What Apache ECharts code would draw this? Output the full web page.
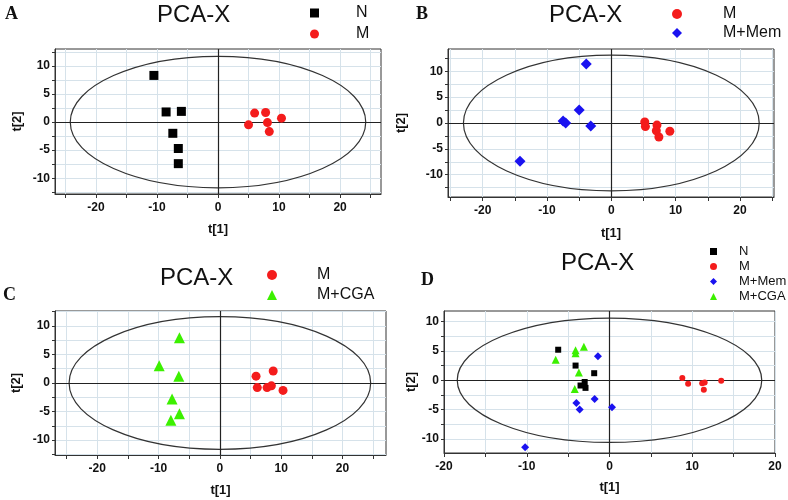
<!DOCTYPE html>
<html>
<head>
<meta charset="utf-8">
<script src="https://cdn.jsdelivr.net/npm/echarts@6/dist/echarts.min.js"></script>
<style>
  html, body { margin: 0; padding: 0; background: #fff; }
  #main { width: 788px; height: 500px; }
</style>
</head>
<body>
<div id="main"></div>
<script>
// scores, [t1, t2]
const aN = [[-10.5, 8.3], [-8.5, 1.8], [-6.0, 1.9], [-7.4, -2.0], [-6.5, -4.7], [-6.5, -7.4]];
const aM = [[5.0, -0.5], [6.0, 1.6], [7.8, 1.7], [8.1, -0.1], [8.4, -1.7], [10.4, 0.7]];

const bM = [[5.2, 0.2], [5.3, -0.7], [7.1, -0.4], [7.0, -1.5], [7.4, -2.7], [9.1, -1.6]];
const bMem = [[-3.9, 11.4], [-5.0, 2.5], [-7.5, 0.4], [-7.1, 0.0], [-3.2, -0.6], [-14.2, -7.4]];

const cM = [[5.9, 1.2], [8.7, 2.1], [6.1, -0.8], [7.7, -0.8], [8.4, -0.5], [10.3, -1.3]];
const cCGA = [[-6.6, 7.9], [-9.9, 3.0], [-6.7, 1.2], [-7.8, -2.8], [-6.6, -5.4], [-8.0, -6.5]];

const dN = [[-6.2, 5.2], [-4.1, 2.5], [-1.85, 1.2], [-3.0, -0.3], [-3.5, -0.9], [-2.9, -1.3]];
const dM = [[8.8, 0.4], [9.5, -0.6], [11.2, -0.5], [11.5, -0.4], [11.4, -1.6], [13.5, -0.1]];
const dMem = [[-1.4, 4.1], [-4.0, -3.9], [-3.6, -5.0], [-1.8, -3.2], [0.3, -4.6], [-10.2, -11.4]];
const dCGA = [[-6.5, 3.5], [-4.1, 5.1], [-4.1, 4.6], [-3.1, 5.7], [-3.7, 1.3], [-4.2, -1.5]];

// Hotelling ellipses [cx, cy, rx, ry]
const ellA = [0, 0, 24.2, 11.7];
const ellB = [0, 0, 23.0, 13.1];
const ellC = [0, 0, 24.6, 11.6];
const ellD = [0, 0, 18.4, 10.6];

// ticks / labels
const xTicks25 = [-25, -20, -15, -10, -5, 0, 5, 10, 15, 20, 25];
const xTicks20 = [-20, -15, -10, -5, 0, 5, 10, 15, 20];
const xLabels = [-20, -10, 0, 10, 20];
const yTicks = [-12.5, -10, -7.5, -5, -2.5, 0, 2.5, 5, 7.5, 10, 12.5];
const yLabels = [-10, -5, 0, 5, 10];

const RED = '#f41c1c', BLUE = '#1a12f0', GREEN = '#3cf000', BLACK = '#000';
const lineCol = '#333';
const gridCol = '#d6e2ea';
const font = 'Liberation Sans, Arial, sans-serif';

const grids = [
  { left: 55, top: 49, width: 326, height: 145 },
  { left: 448, top: 49, width: 326, height: 148 },
  { left: 55, top: 311, width: 331, height: 144 },
  { left: 444, top: 311, width: 331, height: 142 }
].map(g => Object.assign({ show: true, borderColor: lineCol, borderWidth: 1, backgroundColor: 'transparent', outerBoundsMode: 'none' }, g));

function xAxis(idx, min, max, ticks, gap) {
  return {
    type: 'value', gridIndex: idx, min: min, max: max,
    name: 't[1]', nameLocation: 'middle', nameGap: gap,
    nameTextStyle: { fontFamily: font, fontWeight: 'bold', fontSize: 13, color: '#111' },
    axisLine: { onZero: false, lineStyle: { color: lineCol, width: 1 } },
    axisTick: { show: true, length: 4, customValues: ticks, lineStyle: { color: lineCol } },
    axisLabel: { customValues: xLabels, margin: 8, fontFamily: font, fontWeight: 'bold', fontSize: 12, color: '#111' },
    splitLine: { show: true, lineStyle: { color: gridCol, width: 1 } }
  };
}
function yAxis(idx, min, max, gap) {
  return {
    type: 'value', gridIndex: idx, min: min, max: max,
    name: 't[2]', nameLocation: 'middle', nameGap: gap,
    nameTextStyle: { fontFamily: font, fontWeight: 'bold', fontSize: 13, color: '#111' },
    axisLine: { onZero: false, lineStyle: { color: lineCol, width: 1 } },
    axisTick: { show: true, length: 3, customValues: yTicks, lineStyle: { color: lineCol } },
    axisLabel: { customValues: yLabels, margin: 5, fontFamily: font, fontWeight: 'bold', fontSize: 12, color: '#111' },
    splitLine: { show: true, lineStyle: { color: gridCol, width: 1 } }
  };
}

function pts(name, data, idx, symbol, size, color) {
  return {
    type: 'scatter', name: name, data: data,
    xAxisIndex: idx, yAxisIndex: idx,
    symbol: symbol, symbolSize: size,
    itemStyle: { color: color, opacity: 1 },
    emphasis: { disabled: true }, z: 5
  };
}

function ellipse(idx, e) {
  return {
    type: 'custom', xAxisIndex: idx, yAxisIndex: idx, silent: true, z: 3,
    data: [e],
    renderItem: function (params, api) {
      const c = api.coord([api.value(0), api.value(1)]);
      const p = api.coord([api.value(0) + api.value(2), api.value(1) + api.value(3)]);
      return {
        type: 'ellipse',
        shape: { cx: c[0], cy: c[1], rx: p[0] - c[0], ry: c[1] - p[1] },
        style: { fill: 'none', stroke: lineCol, lineWidth: 1.2 }
      };
    },
    markLine: {
      silent: true, symbol: 'none', label: { show: false },
      lineStyle: { color: '#222', width: 1.2, type: 'solid' },
      data: [{ xAxis: 0 }, { yAxis: 0 }]
    }
  };
}

function legend(left, top, gap, iw, fs, pad, weight, items) {
  return {
    orient: 'vertical', left: left, top: top, itemGap: gap,
    itemWidth: iw, itemHeight: iw, selectedMode: false,
    textStyle: { fontFamily: font, fontSize: fs, fontWeight: weight, color: '#111', padding: [0, 0, 0, pad] },
    data: items
  };
}

function title(text, x, y) {
  return { type: 'text', left: x, top: y, style: { text: text, font: '24px ' + font, fill: '#111' } };
}
function letter(text, x, y) {
  return { type: 'text', left: x, top: y, style: { text: text, font: 'bold 18px Liberation Serif, Times New Roman, serif', fill: '#111' } };
}

const chart = echarts.init(document.getElementById('main'), null, { renderer: 'canvas' });
chart.setOption({
  backgroundColor: '#fff',
  animation: false,
  grid: grids,
  xAxis: [
    xAxis(0, -26.7, 26.7, xTicks25, 29),
    xAxis(1, -25.4, 25.3, xTicks25, 30),
    xAxis(2, -26.9, 27.1, xTicks25, 29),
    xAxis(3, -20, 20, xTicks20, 28)
  ],
  yAxis: [
    yAxis(0, -12.8, 13.0, 31),
    yAxis(1, -14.3, 14.3, 40),
    yAxis(2, -12.6, 12.6, 32),
    yAxis(3, -12.4, 11.8, 26)
  ],
  legend: [
    legend(305, 0, 5, 9, 16, 32, 'normal', [{ name: 'N', icon: 'rect' }, { name: 'M', icon: 'circle' }]),
    legend(667, 1, 3, 10, 16, 36, 'normal', [{ name: 'M', icon: 'circle' }, { name: 'M+Mem', icon: 'diamond' }]),
    legend(262, 262, 4, 10, 16, 35, 'normal', [{ name: 'M', icon: 'circle' }, { name: 'M+CGA', icon: 'triangle' }]),
    legend(705, 240, 2, 7, 13, 17, 'normal', [
      { name: 'N', icon: 'rect' }, { name: 'M', icon: 'circle' },
      { name: 'M+Mem', icon: 'diamond' }, { name: 'M+CGA', icon: 'triangle' }
    ])
  ],
  graphic: [
    title('PCA-X', 157, 3),
    title('PCA-X', 549, 3),
    title('PCA-X', 160, 266),
    title('PCA-X', 561, 251),
    letter('A', 5, 5),
    letter('B', 416, 5),
    letter('C', 3, 286),
    letter('D', 421, 271)
  ],
  series: [
    ellipse(0, ellA), ellipse(1, ellB), ellipse(2, ellC), ellipse(3, ellD),
    pts('N', aN, 0, 'rect', 9, BLACK),
    pts('M', aM, 0, 'circle', 9, RED),
    pts('M', bM, 1, 'circle', 9, RED),
    pts('M+Mem', bMem, 1, 'diamond', 11, BLUE),
    pts('M', cM, 2, 'circle', 9, RED),
    pts('M+CGA', cCGA, 2, 'triangle', 11, GREEN),
    pts('N', dN, 3, 'rect', 6, BLACK),
    pts('M', dM, 3, 'circle', 6, RED),
    pts('M+Mem', dMem, 3, 'diamond', 8, BLUE),
    pts('M+CGA', dCGA, 3, 'triangle', 8, GREEN)
  ]
});
</script>
</body>
</html>
